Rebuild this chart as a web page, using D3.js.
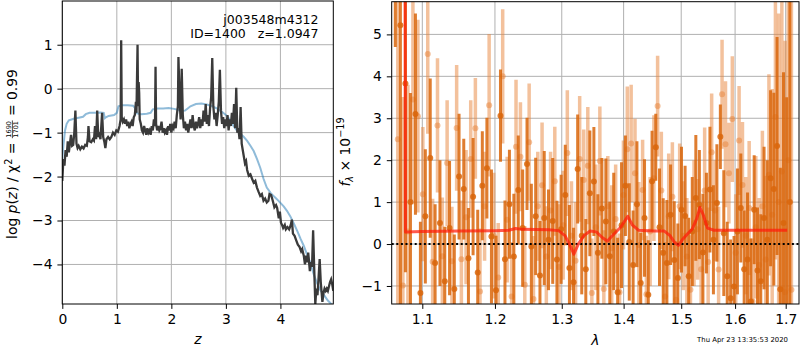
<!DOCTYPE html>
<html><head><meta charset="utf-8">
<script src="https://cdn.jsdelivr.net/npm/d3@7"></script>
<style>body{margin:0;background:#fff}svg{display:block}text{font-family:"DejaVu Sans",sans-serif;fill:#000}</style>
</head><body><svg id="c" width="800" height="350"></svg>
<script>
// ---- left panel: log p(z) and prior ----
const pzZ = [0,0.02,0.04,0.06,0.08,0.10,0.12,0.14,0.16,0.18,0.20,0.22,0.24,0.26,0.28,0.30,0.33,0.36,0.39,0.42,0.45,0.47,0.48,0.50,0.53,0.56,0.58,0.60,0.62,0.64,0.66,0.68,0.70,0.73,0.75,0.77,0.79,0.81,0.84,0.87,0.90,0.93,0.96,0.99,1.02,1.05,1.07,1.08,1.09,1.11,1.13,1.15,1.17,1.19,1.21,1.23,1.25,1.27,1.29,1.31,1.33,1.35,1.36,1.38,1.39,1.40,1.41,1.42,1.44,1.46,1.48,1.50,1.52,1.54,1.56,1.58,1.60,1.62,1.64,1.66,1.68,1.70,1.71,1.72,1.74,1.76,1.78,1.80,1.82,1.84,1.86,1.88,1.90,1.92,1.94,1.96,1.98,2.00,2.02,2.04,2.06,2.08,2.10,2.12,2.13,2.15,2.17,2.19,2.21,2.23,2.25,2.27,2.29,2.31,2.33,2.35,2.37,2.39,2.41,2.43,2.45,2.47,2.49,2.51,2.53,2.55,2.57,2.59,2.61,2.63,2.65,2.67,2.69,2.71,2.73,2.75,2.77,2.79,2.81,2.83,2.85,2.87,2.89,2.91,2.93,2.95,2.97,2.99,3.01,3.03,3.05,3.07,3.09,3.11,3.13,3.15,3.17,3.19,3.21,3.23,3.25,3.27,3.29,3.31,3.33,3.35,3.37,3.39,3.42,3.45,3.48,3.51,3.54,3.57,3.60,3.63,3.66,3.69,3.72,3.75,3.78,3.80,3.83,3.86,3.89,3.92,3.94,3.97,3.99,4.01,4.03,4.05,4.08,4.10,4.13,4.16,4.19,4.21,4.23,4.26,4.29,4.32,4.35,4.38,4.40,4.43,4.45,4.47,4.49,4.51,4.54,4.56,4.58,4.60,4.62,4.64,4.66,4.68,4.70,4.72,4.74,4.77,4.79,4.81,4.83,4.85,4.87,4.89,4.91,4.93,4.95,4.97];
const pzVal = [-2.10,-1.60,-1.75,-1.40,-1.55,-1.20,-1.45,-1.25,-1.05,-1.30,-1.28,-1.00,-0.50,-1.25,-1.35,-1.30,-1.38,-1.32,-1.36,-1.28,-1.30,-1.10,-0.85,-1.20,-1.22,-1.15,-1.18,-0.85,-1.15,-0.50,-1.10,-1.05,-1.15,-0.55,-1.10,-1.20,-1.35,-1.15,-1.10,-1.15,-1.10,-1.00,-1.05,-0.95,-0.98,-0.85,-0.70,1.10,-0.65,-0.75,-0.70,-0.80,-0.70,-0.85,-0.75,-0.90,-0.80,-0.75,-0.85,-0.65,-0.60,-0.30,-0.55,1.00,-0.40,0.15,-0.10,-0.70,-0.80,-0.95,-1.00,-0.85,-0.95,-1.05,-0.90,-1.00,-0.95,-1.05,-0.85,-0.95,-0.70,-0.85,0.50,-0.80,-0.95,-0.85,-0.95,-0.90,-0.75,-1.00,-0.90,-1.00,-0.95,-1.05,-0.85,-0.95,-0.80,-1.00,-0.85,-0.90,-0.75,-0.90,-0.60,-0.40,0.72,-0.20,-0.70,0.45,-0.60,-0.90,-0.75,-0.95,-0.80,-1.00,-0.85,-0.70,-0.90,-0.60,-0.85,-0.95,-0.75,-0.90,-0.80,-0.65,-0.90,-0.70,-0.85,-0.50,-0.75,-0.35,-0.80,-0.60,-0.85,-0.45,-0.20,0.70,-0.40,-0.70,-0.55,-0.85,-0.60,-0.30,0.43,-0.50,-0.80,-0.65,-0.90,-0.70,-0.85,-0.60,-0.95,-0.70,-0.85,-0.55,-0.80,-0.35,-0.90,0.02,-1.00,-0.90,-1.15,-0.42,-1.25,-1.40,-1.55,-1.70,-1.65,-1.85,-1.98,-1.95,-2.05,-2.14,-2.10,-2.25,-2.35,-2.44,-2.40,-2.55,-2.50,-2.59,-2.55,-2.40,-2.42,-2.55,-2.70,-2.65,-2.71,-2.95,-2.80,-3.05,-3.10,-3.17,-3.10,-3.20,-3.15,-3.20,-3.10,-2.98,-3.30,-3.35,-3.45,-3.55,-3.60,-3.70,-3.65,-3.81,-4.00,-3.80,-3.95,-3.73,-4.15,-3.95,-4.05,-3.22,-4.10,-4.90,-4.55,-4.70,-4.30,-3.88,-4.40,-4.85,-4.65,-4.55,-4.60,-4.55,-4.60,-4.50,-4.40,-4.34,-4.45,-4.60];
const priorZ = [0,0.02,0.05,0.08,0.12,0.17,0.22,0.30,0.38,0.43,0.50,0.60,0.70,0.76,0.78,0.80,0.85,0.95,1.00,1.03,1.10,1.20,1.30,1.34,1.37,1.45,1.55,1.62,1.66,1.75,1.85,1.95,2.05,2.12,2.17,2.25,2.30,2.35,2.45,2.55,2.65,2.75,2.85,2.95,3.02,3.08,3.14,3.20,3.27,3.33,3.39,3.45,3.51,3.57,3.63,3.69,3.75,3.82,3.88,3.94,4.00,4.06,4.12,4.18,4.25,4.31,4.37,4.43,4.49,4.55,4.61,4.67,4.73,4.80,4.87,4.95];
const priorVal = [-1.60,-1.30,-0.95,-0.80,-0.72,-0.70,-0.68,-0.66,-0.64,-0.58,-0.55,-0.55,-0.54,-0.55,-0.67,-0.65,-0.62,-0.60,-0.55,-0.40,-0.38,-0.38,-0.39,-0.45,-0.56,-0.58,-0.57,-0.55,-0.47,-0.45,-0.45,-0.44,-0.46,-0.48,-0.51,-0.50,-0.45,-0.40,-0.35,-0.34,-0.36,-0.40,-0.46,-0.55,-0.62,-0.72,-0.85,-0.95,-1.03,-1.10,-1.19,-1.30,-1.42,-1.60,-1.80,-2.05,-2.25,-2.37,-2.45,-2.52,-2.60,-2.68,-2.78,-2.90,-3.08,-3.24,-3.42,-3.58,-3.78,-3.97,-4.22,-4.42,-4.58,-4.70,-4.82,-4.92];

// ---- right panel: spectra (two beams) and model ----
const waveA = [1.065,1.0715,1.078,1.0845,1.091,1.0975,1.104,1.1105,1.117,1.1235,1.13,1.1365,1.143,1.1495,1.156,1.1625,1.169,1.1755,1.182,1.1885,1.195,1.2015,1.208,1.2145,1.221,1.2275,1.234,1.2405,1.247,1.2535,1.26,1.2665,1.273,1.2795,1.286,1.2925,1.299,1.3055,1.312,1.3185,1.325,1.3315,1.338,1.3445,1.351,1.3575,1.364,1.3705,1.377,1.3835,1.39,1.3965,1.403,1.4095,1.416,1.4225,1.429,1.4355,1.442,1.4485,1.455,1.4615,1.468,1.4745,1.481,1.4875,1.494,1.5005,1.507,1.5135,1.52,1.5265,1.533,1.5395,1.546,1.5525,1.559,1.5655,1.572,1.5785,1.585,1.5915,1.598,1.6045,1.611,1.6175,1.624,1.6305,1.637,1.6435,1.65,1.6565,1.663,1.6695,1.676,1.6825,1.689,1.6955,1.702,1.7085];
const fluxA = [7.0,5.22,3.83,1.0,3.1,-1.17,0.66,2.05,-0.45,0.5,-0.89,0.38,-1.07,1.61,1.31,-0.34,1.13,-0.68,1.39,1.81,0.18,-1.1,3.06,-0.36,0.95,-0.3,1.29,0.38,1.91,-0.06,0.66,-0.75,0.62,0.1,0.55,-0.37,0.35,1.17,-0.57,-0.91,1.79,0.2,-0.6,1.21,1.49,-0.21,0.85,0.54,-0.29,0.3,-1.15,0.45,1.39,0.05,-0.5,0.95,-0.93,0.62,-1.21,1.5,2.31,0.4,-0.21,-0.45,0.7,-0.38,-0.81,0.82,0.67,-0.77,0.3,1.1,0.94,-0.2,0.5,1.3,0.1,0.98,2.56,0.26,-0.77,-1.29,-1.01,0.3,0.86,-0.6,-0.37,-1.37,0.82,-0.63,-0.89,0.62,0.1,1.57,1.31,2.34,-1.08,0.5,-1.5,1.0];
const errA = [2.3,8.0,4.5,2.6,2.4,1.7,1.6,1.9,1.4,1.5,1.3,1.6,1.3,1.5,1.2,1.2,1.4,1.5,1.3,1.2,1.6,1.3,1.1,1.4,1.3,1.5,1.3,1.4,1.1,1.5,1.4,1.3,1.6,1.2,1.5,1.4,1.3,1.2,1.5,1.3,1.3,1.4,1.2,1.5,1.3,1.4,1.2,1.5,1.3,1.4,1.3,1.5,1.2,1.4,1.3,1.5,1.2,1.4,1.3,1.2,0.8,1.4,1.3,1.5,1.2,1.4,1.3,1.5,1.2,1.4,1.3,1.5,1.3,1.4,1.2,1.5,1.3,1.4,0.77,1.5,1.3,1.4,1.2,1.5,1.3,1.4,1.6,1.5,1.3,1.5,1.6,1.7,1.9,2.1,2.3,2.6,2.9,3.6,5.0,8.0];
const waveB = [1.0682,1.0747,1.0812,1.0877,1.0942,1.1007,1.1072,1.1137,1.1202,1.1267,1.1332,1.1397,1.1462,1.1527,1.1592,1.1657,1.1722,1.1787,1.1852,1.1917,1.1982,1.2047,1.2112,1.2177,1.2242,1.2307,1.2372,1.2437,1.2502,1.2567,1.2632,1.2697,1.2762,1.2827,1.2892,1.2957,1.3022,1.3087,1.3152,1.3217,1.3282,1.3347,1.3412,1.3477,1.3542,1.3607,1.3672,1.3737,1.3802,1.3867,1.3932,1.3997,1.4062,1.4127,1.4192,1.4257,1.4322,1.4387,1.4452,1.4517,1.4582,1.4647,1.4712,1.4777,1.4842,1.4907,1.4972,1.5037,1.5102,1.5167,1.5232,1.5297,1.5362,1.5427,1.5492,1.5557,1.5622,1.5687,1.5752,1.5817,1.5882,1.5947,1.6012,1.6077,1.6142,1.6207,1.6272,1.6337,1.6402,1.6467,1.6532,1.6597,1.6662,1.6727,1.6792,1.6857,1.6922,1.6987,1.7052,1.7117];
const fluxB = [2.5,-0.99,0.3,3.45,3.05,1.19,4.53,-0.42,2.83,-0.29,1.93,-0.41,2.77,-0.36,0.64,2.03,2.76,-1.13,0.9,3.31,0.2,-0.8,4.0,0.58,-1.25,2.32,2.08,-0.97,2.43,-1.31,0.9,1.4,-0.3,0.8,1.5,-0.55,0.45,2.17,0.2,-0.4,2.03,1.53,1.87,-1.17,0.4,1.98,-1.07,0.9,-0.1,0.6,-1.15,1.17,2.26,2.4,1.69,-0.02,1.29,-1.2,0.3,1.57,3.29,1.28,-1.25,0.66,1.13,-1.33,0.9,0.2,-0.3,-1.09,0.5,0.35,-0.6,1.28,-0.43,2.19,0.8,-0.61,3.57,2.38,1.69,2.98,-0.21,2.47,1.41,0.2,0.86,-1.37,0.4,-0.5,0.9,-0.37,1.65,0.7,3.03,1.0,1.73,-1.15,2.0,-1.09];
const errB = [6.0,4.5,3.5,2.5,2.3,1.6,1.9,1.5,1.6,1.4,1.5,1.3,1.5,1.4,1.6,1.4,1.2,1.5,1.3,1.7,1.5,1.3,1.6,1.5,1.3,1.6,1.3,1.4,1.4,1.5,1.3,1.5,1.2,1.4,1.3,1.5,1.3,1.5,1.3,1.4,1.5,1.2,1.4,1.3,1.5,1.3,1.4,1.2,1.5,1.3,1.4,1.3,1.5,1.4,1.3,1.5,1.2,1.4,1.3,1.5,1.2,1.4,1.3,1.5,1.3,1.4,1.5,1.3,1.4,1.3,1.5,1.2,1.4,1.5,1.3,1.4,1.2,1.5,1.3,1.5,1.2,1.5,1.4,1.3,1.5,1.4,1.6,1.5,1.7,1.6,1.8,2.0,2.4,3.0,3.4,4.5,5.5,6.0,7.0,8.0];
const modelWave = [1.0775,1.0780,1.10,1.15,1.20,1.22,1.23,1.24,1.28,1.295,1.305,1.312,1.319,1.326,1.335,1.345,1.355,1.365,1.373,1.38,1.395,1.407,1.415,1.425,1.45,1.47,1.48,1.488,1.495,1.502,1.512,1.52,1.528,1.534,1.54,1.548,1.56,1.60,1.65,1.703];
const modelFlux = [6.5,0.29,0.30,0.31,0.32,0.33,0.37,0.35,0.34,0.32,0.2,0.0,-0.24,0.0,0.2,0.31,0.29,0.15,0.07,0.18,0.4,0.66,0.45,0.33,0.31,0.31,0.2,0.04,-0.03,0.1,0.25,0.36,0.6,0.87,0.7,0.38,0.33,0.33,0.33,0.33];

const leftXTicks = [0,1,2,3,4];
const leftYTicks = [-4,-3,-2,-1,0,1];
const rightXTicks = [1.1,1.2,1.3,1.4,1.5,1.6,1.7];
const rightYTicks = [-1,0,1,2,3,4,5];

const svg = d3.select("#c");
const FS = 13.9, TICK = 4.9, PAD = 4.9;
const minus = s => String(s).replace("-", "\u2212");

function panel(L, R, T, B, x, y, xt, yt, xfmt, clipId) {
  const g = svg.append("g");
  g.append("clipPath").attr("id", clipId).append("rect")
    .attr("x", L).attr("y", T).attr("width", R - L).attr("height", B - T);
  const grid = g.append("g").attr("stroke", "#b0b0b0").attr("stroke-width", 1);
  xt.forEach(v => grid.append("line").attr("x1", x(v)).attr("x2", x(v)).attr("y1", T).attr("y2", B));
  yt.forEach(v => grid.append("line").attr("x1", L).attr("x2", R).attr("y1", y(v)).attr("y2", y(v)));
  const data = g.append("g").attr("clip-path", `url(#${clipId})`);
  const ax = g.append("g");
  const xa = ax.append("g").attr("transform", `translate(0,${B})`)
    .call(d3.axisBottom(x).tickValues(xt).tickFormat(xfmt).tickSize(TICK).tickPadding(PAD));
  const ya = ax.append("g").attr("transform", `translate(${L},0)`)
    .call(d3.axisLeft(y).tickValues(yt).tickFormat(d => minus(d)).tickSize(TICK).tickPadding(PAD));
  [xa, ya].forEach(a => {
    a.select(".domain").remove();
    a.selectAll("line").attr("stroke", "#000").attr("stroke-width", 1);
    a.selectAll("text").attr("font-size", FS).attr("font-family", "DejaVu Sans").attr("fill", "#000");
  });
  ax.append("rect").attr("x", L).attr("y", T).attr("width", R - L).attr("height", B - T)
    .attr("fill", "none").attr("stroke", "#000").attr("stroke-width", 1);
  return data;
}

// ---- left panel ----
const xL = d3.scaleLinear().domain([0, 4.97]).range([62.3, 333.3]);
const yL = d3.scaleLinear().domain([-4.9, 1.995]).range([304, 1]);
const dL = panel(62.3, 333.3, 1, 304, xL, yL, leftXTicks, leftYTicks, d => String(d), "clipL");
dL.append("path").datum(priorZ.map((z, i) => [z, priorVal[i]]))
  .attr("d", d3.line().x(d => xL(d[0])).y(d => yL(d[1])))
  .attr("fill", "none").attr("stroke", "#1f77b4").attr("stroke-opacity", 0.5).attr("stroke-width", 2);
dL.append("path").datum(pzZ.map((z, i) => [z, pzVal[i]]))
  .attr("d", d3.line().x(d => xL(d[0])).y(d => yL(d[1])))
  .attr("fill", "none").attr("stroke", "#3a3a3a").attr("stroke-width", 2.3)
  .attr("stroke-linejoin", "miter");

svg.append("text").attr("x", 318.5).attr("y", 24).attr("text-anchor", "end").attr("font-size", 12.5)
  .text("j003548m4312");
svg.append("text").attr("x", 318.5).attr("y", 38).attr("text-anchor", "end").attr("font-size", 12.5)
  .style("white-space", "pre").text("ID=1400   z=1.0947");
svg.append("text").attr("x", 197.8).attr("y", 343.5).attr("text-anchor", "middle").attr("font-size", FS)
  .attr("font-style", "italic").text("z");

// left y label with stacked fraction
{
  const g = svg.append("g").attr("transform", "translate(17,154) rotate(-90)");
  const t1 = g.append("text").attr("font-size", FS).style("white-space", "pre");
  t1.append("tspan").text("log ");
  t1.append("tspan").attr("font-style", "italic").text("p");
  t1.append("tspan").text("(");
  t1.append("tspan").attr("font-style", "italic").text("z");
  t1.append("tspan").text(") / \u03c7");
  t1.append("tspan").attr("font-size", 9.7).attr("dy", -5.5).text("2");
  t1.append("tspan").attr("dy", 5.5).text(" = ");
  const l1 = t1.node().getComputedTextLength();
  const num = g.append("text").attr("font-size", 6.6).attr("text-anchor", "middle").text("1690");
  const den = g.append("text").attr("font-size", 6.6).attr("text-anchor", "middle").text("1701");
  const fw = Math.max(num.node().getComputedTextLength(), den.node().getComputedTextLength()) + 1;
  const t2 = g.append("text").attr("font-size", FS).style("white-space", "pre").text(" = 0.99");
  const l2 = t2.node().getComputedTextLength();
  const total = l1 + fw + l2, x0 = -total / 2;
  t1.attr("x", x0);
  num.attr("x", x0 + l1 + fw / 2).attr("y", -6.2);
  den.attr("x", x0 + l1 + fw / 2).attr("y", 0.6);
  g.append("line").attr("x1", x0 + l1).attr("x2", x0 + l1 + fw).attr("y1", -4.6).attr("y2", -4.6)
    .attr("stroke", "#000").attr("stroke-width", 0.7);
  t2.attr("x", x0 + l1 + fw);
}

// ---- right panel ----
const xR = d3.scaleLog().domain([1.0604, 1.7273]).range([391.7, 799]);
const yR = d3.scaleLinear().domain([-1.43, 5.78]).range([304, 1.7]);
const dR = panel(391.7, 799, 1.7, 304, xR, yR, rightXTicks, rightYTicks, d3.format(".1f"), "clipR");

function beam(wave, flux, err, color, op, w) {
  const g = dR.append("g");
  g.selectAll("line").data(wave).join("line")
    .attr("x1", d => xR(d)).attr("x2", d => xR(d))
    .attr("y1", (d, i) => yR(flux[i] - err[i])).attr("y2", (d, i) => yR(flux[i] + err[i]))
    .attr("stroke", color).attr("stroke-opacity", op).attr("stroke-width", w);
  g.selectAll("circle").data(wave).join("circle")
    .attr("cx", d => xR(d)).attr("cy", (d, i) => yR(flux[i])).attr("r", 3)
    .attr("fill", color).attr("fill-opacity", op);
}
beam(waveB, fluxB, errB, "#e8843a", 0.5, 3.5);
beam(waveA, fluxA, errA, "#d9660c", 0.85, 3);

dR.append("line").attr("x1", 391.7).attr("x2", 799).attr("y1", yR(0)).attr("y2", yR(0))
  .attr("stroke", "#000").attr("stroke-width", 2).attr("stroke-dasharray", "2,2.6");
dR.append("path").datum(modelWave.map((w, i) => [w, modelFlux[i]]))
  .attr("d", d3.line().x(d => xR(d[0])).y(d => yR(d[1])))
  .attr("fill", "none").attr("stroke", "#ff1a0a").attr("stroke-opacity", 0.72).attr("stroke-width", 3)
  .attr("stroke-linejoin", "round");

svg.append("text").attr("x", 595.3).attr("y", 344.5).attr("text-anchor", "middle").attr("font-size", FS)
  .attr("font-style", "italic").text("\u03bb");
{
  const t = svg.append("text").attr("transform", "translate(350,152) rotate(-90)")
    .attr("text-anchor", "middle").attr("font-size", FS);
  t.append("tspan").attr("font-style", "italic").text("f");
  t.append("tspan").attr("font-size", 9.7).attr("font-style", "italic").attr("dy", 3).text("\u03bb");
  t.append("tspan").attr("dy", -3).text(" \u00d7 10");
  t.append("tspan").attr("font-size", 9.7).attr("dy", -6).text("\u221219");
}
svg.append("text").attr("x", 788).attr("y", 341.7).attr("text-anchor", "end").attr("font-size", 6.9)
  .text("Thu Apr 23 13:35:53 2020");
</script>
</body></html>
